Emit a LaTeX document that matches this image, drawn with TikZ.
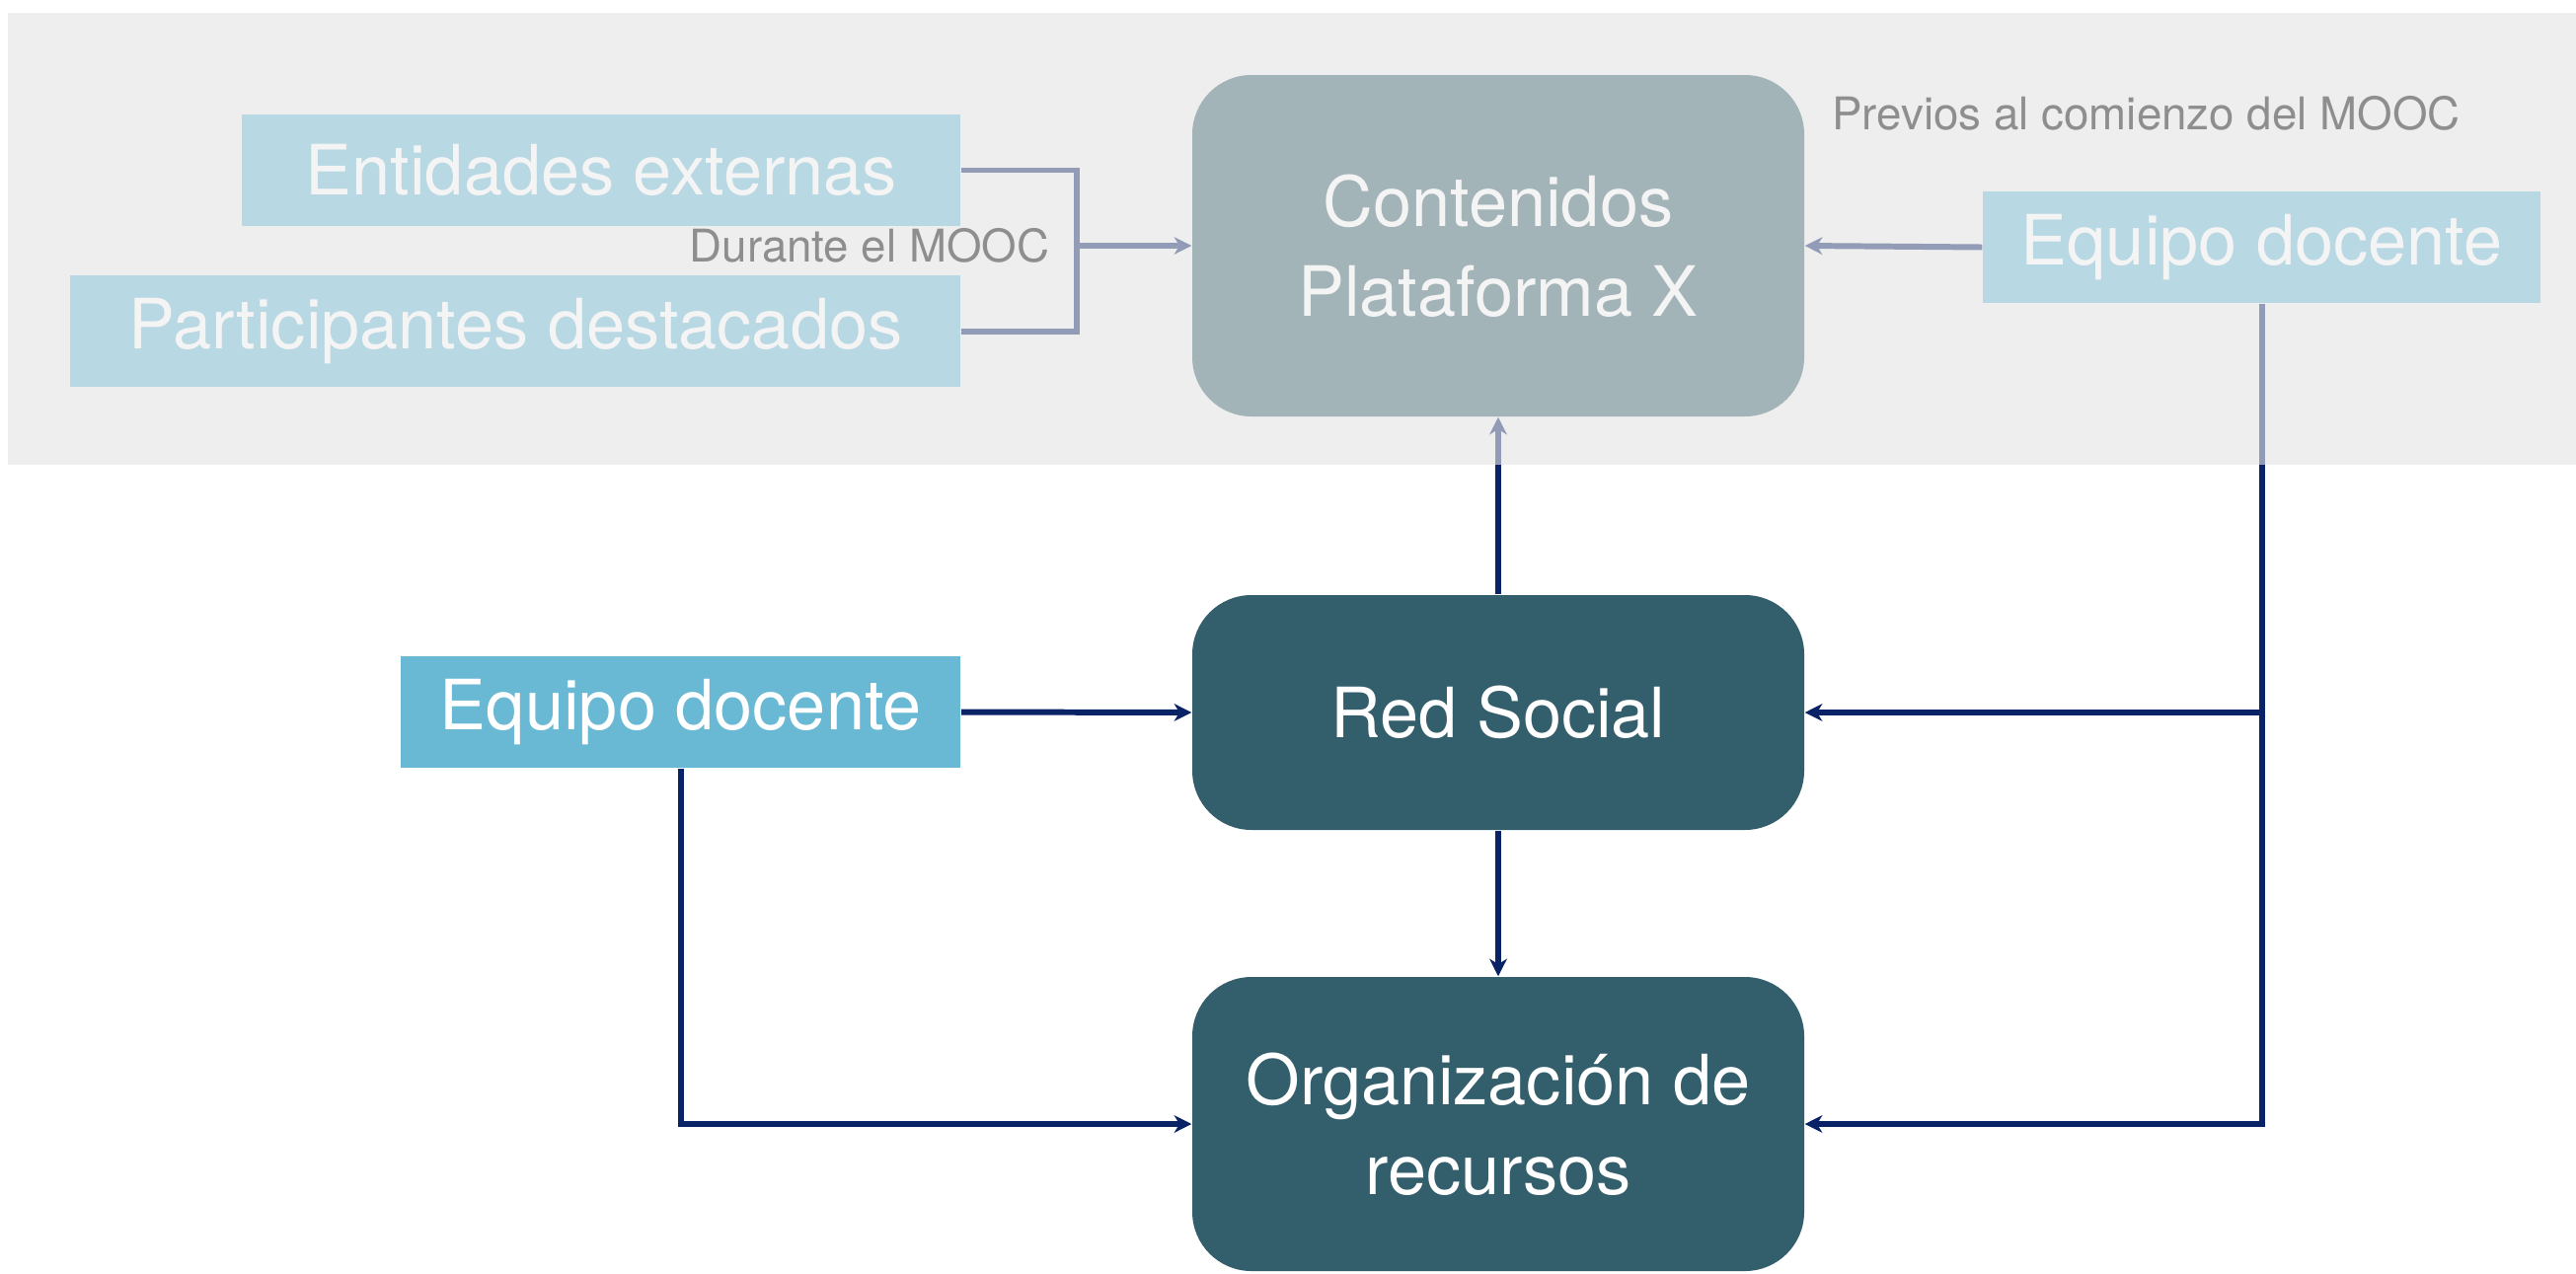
\documentclass[tikz,border=0pt]{standalone}
\usepackage{fontspec}
\setmainfont{TeX Gyre Heros}
\usetikzlibrary{positioning,calc,arrows.meta}

\definecolor{tealbox}{RGB}{51,94,107}
\definecolor{skybox}{RGB}{105,184,212}
\definecolor{navyline}{RGB}{10,34,102}
\definecolor{bandgray}{RGB}{238,238,238}

\begin{document}
\begin{tikzpicture}[
  mainbox/.style={rectangle, rounded corners=6mm, fill=tealbox, text=white, minimum width=62mm, align=center, font=\fontsize{20}{26}\selectfont},
  srcbox/.style={rectangle, fill=skybox, text=white, minimum height=11.3mm, inner sep=0pt, font=\fontsize{20}{26}\selectfont},
  link/.style={draw=navyline, line width=1.7pt, -{Stealth[length=5pt, width=5pt, inset=1.5pt]}},
  link-annotate/.style={font=\fontsize{13}{13}\selectfont, text=black}
]
  \useasboundingbox (0,0) rectangle (26.1,-12.9);
  \fill[bandgray] (0.08,-0.13) rectangle (26.1,-4.71);

  \node (contenidos) at (15.18,-2.49) [mainbox, minimum height=34.6mm] {Contenidos\\Plataforma X};
  \node (red-social) at (15.18,-7.22) [mainbox, minimum height=23.8mm] {Red Social};
  \node (org-recursos) at (15.18,-11.39) [mainbox, minimum height=29.8mm] {Organización de\\recursos};

  \node (entidades) at (9.74,-1.725) [srcbox, anchor=east, minimum width=72.8mm] {Entidades externas};
  \node (participantes) [below=4.9mm of entidades.south east, anchor=north east, srcbox, minimum width=90.2mm] {Participantes destacados};
  \node (equipo-top) at (22.915,-2.505) [srcbox, minimum width=56.5mm] {Equipo docente};
  \node (equipo-left) at (9.74,-7.215) [srcbox, anchor=east, minimum width=56.7mm] {Equipo docente};

  \coordinate (merge) at (10.91,-2.49);
  \draw[link, -] (entidades.east) -| (merge) |- (participantes.east);
  \draw[link] (merge) -- (contenidos.west) node[link-annotate, pos=0, left=1.3mm] {Durante el MOOC};

  \draw[link] (equipo-top.west) -- (contenidos.east);
  \node (previos) at (18.44,-1.31) [link-annotate, anchor=base west] {Previos al comienzo del MOOC};

  \draw[link] (equipo-top.south) |- (org-recursos.east);
  \draw[link] (equipo-top.south |- red-social.east) -- (red-social.east);
  \draw[link] (equipo-left.east) -- (red-social.west);
  \draw[link] (equipo-left.south) |- (org-recursos.west);
  \draw[link] (red-social.north) -- (contenidos.south);
  \draw[link] (red-social.south) -- (org-recursos.north);

  \fill[bandgray, fill opacity=0.6] (0.08,-0.13) rectangle (26.1,-4.71);
\end{tikzpicture}
\end{document}
